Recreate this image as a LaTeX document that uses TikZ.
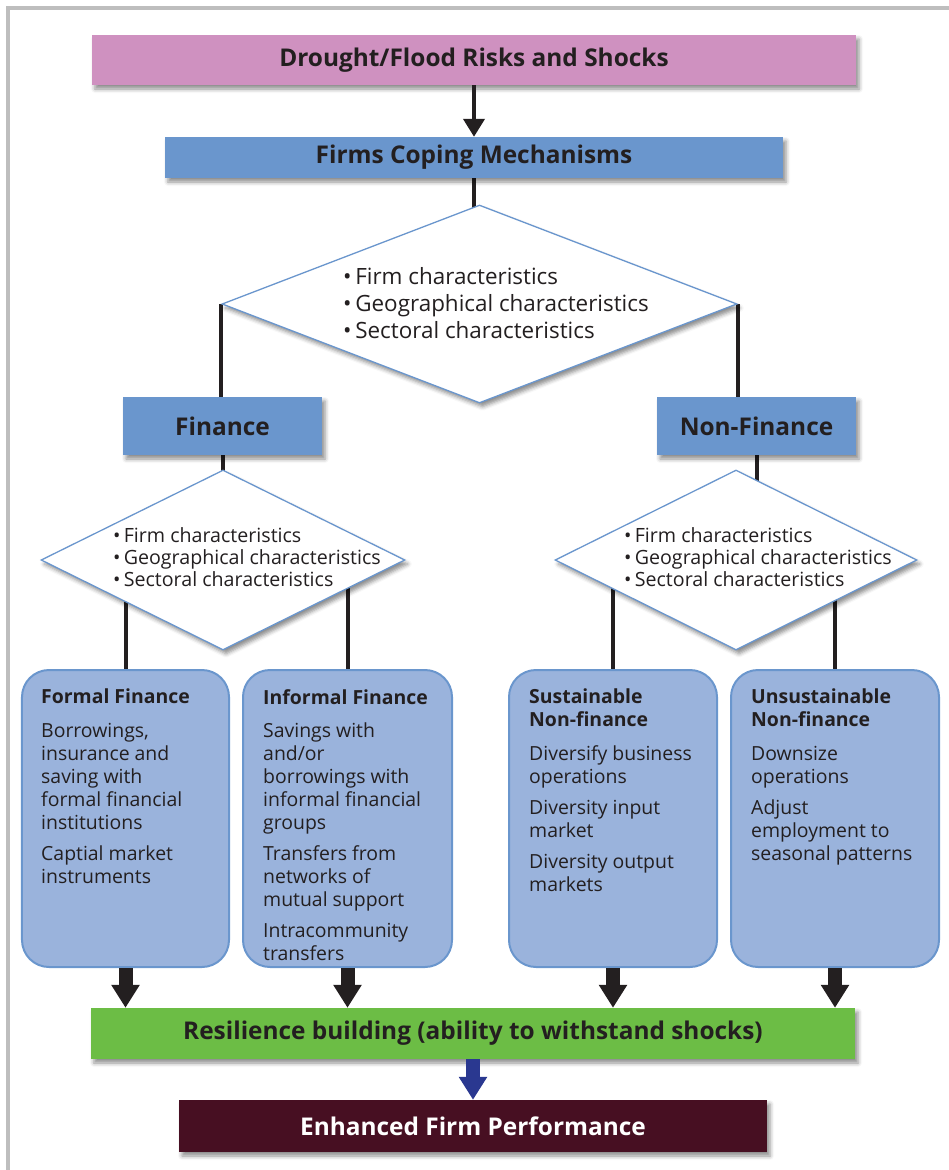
\documentclass[tikz,border=0pt]{standalone}
\usepackage{fontspec}
\setmainfont{Open Sans}
\usetikzlibrary{shapes.geometric,arrows.meta,shadows.blur,backgrounds}
\definecolor{riskpink}{RGB}{207,145,192}
\definecolor{midblue}{RGB}{106,150,205}
\definecolor{paleblue}{RGB}{154,179,220}
\definecolor{resgreen}{RGB}{108,189,69}
\definecolor{perfmaroon}{RGB}{71,15,34}
\definecolor{navyarrow}{RGB}{42,56,144}
\definecolor{inkblack}{RGB}{35,31,32}
\definecolor{framegray}{RGB}{190,190,190}
\tikzset{
	boxshadow/.style={blur shadow={shadow xshift=3bp, shadow yshift=-4bp, shadow blur radius=4bp, shadow opacity=45}},
	headbox/.style={boxshadow, inner sep=0pt, text=inkblack, font=\bfseries\fontsize{24.5}{28}\selectfont},
	branchbox/.style={headbox, fill=midblue, minimum width=199bp, minimum height=58bp, font=\bfseries\fontsize{24.5}{28}\selectfont},
	conddiamond/.style={diamond, draw=midblue, line width=1.3bp, fill=white, boxshadow, inner sep=0pt},
	condtext/.style={anchor=west, align=left, inner sep=0pt, text=inkblack},
	mechbox/.style={draw=midblue, line width=2bp, fill=paleblue, rounded corners=27bp, minimum width=207bp, minimum height=297bp, inner sep=0pt},
	mechtext/.style={anchor=north west, align=left, inner sep=0pt, text=inkblack, font=\fontsize{19.5}{23}\selectfont},
	link/.style={draw=inkblack, line width=4bp},
	thinarrow/.style={link, -{Triangle[width=21bp, length=18bp]}},
	fatarrow/.style={draw=inkblack, line width=14bp, -{Triangle[width=27bp, length=23bp]}}
}
\begin{document}
\begin{tikzpicture}[x=1bp, y=-1bp]
	\useasboundingbox (0,0) rectangle (949,1170);
	\draw[framegray, line width=3.5bp] (8,1175) -- (8,8) -- (955,8);

	\node[headbox, fill=riskpink, minimum width=764bp, minimum height=50bp] (risk) at (474,60) {Drought/Flood Risks and Shocks};
	\node[headbox, fill=midblue, minimum width=618bp, minimum height=41bp] (firms) at (474,157.5) {Firms Coping Mechanisms};
	\node[conddiamond, minimum width=515bp, minimum height=198bp] (cond) at (479.5,304) {};
	\node[condtext, font=\fontsize{22.5}{27}\selectfont] (condt) at (343,303) {•\,Firm characteristics\\•\,Geographical characteristics\\•\,Sectoral characteristics};

	\node[branchbox] (fin) at (222.5,426) {Finance};
	\node[branchbox] (nonfin) at (756.5,426) {Non-Finance};

	\node[conddiamond, minimum width=364bp, minimum height=180bp] (fcond) at (223,560) {};
	\node[condtext, font=\fontsize{19.7}{22}\selectfont] (fcondt) at (113,557) {•\,Firm characteristics\\•\,Geographical characteristics\\•\,Sectoral characteristics};
	\node[conddiamond, minimum width=362bp, minimum height=180bp] (ncond) at (736,560) {};
	\node[condtext, font=\fontsize{19.7}{22}\selectfont] (ncondt) at (624,557) {•\,Firm characteristics\\•\,Geographical characteristics\\•\,Sectoral characteristics};

	\node[mechbox] (formal) at (125.5,818.5) {};
	\node[mechbox, minimum width=209bp] (informal) at (347.5,818.5) {};
	\node[mechbox, minimum width=208bp] (sust) at (613,818.5) {};
	\node[mechbox, minimum width=208bp] (unsust) at (835,818.5) {};

	\node[mechtext] (formalt) at ([shift={(20,20)}]formal.north west) {\textbf{Formal Finance}\\[11bp]Borrowings,\\insurance and\\saving with\\formal financial\\institutions\\[8bp]Captial market\\instruments};
	\node[mechtext] (informalt) at ([shift={(21,20)}]informal.north west) {\textbf{Informal Finance}\\[11bp]Savings with\\and/or\\borrowings with\\informal financial\\groups\\[8bp]Transfers from\\networks of\\mutual support\\[8bp]Intracommunity\\transfers};
	\node[mechtext] (sustt) at ([shift={(21,20)}]sust.north west) {\textbf{Sustainable}\\\textbf{Non-finance}\\[11bp]Diversify business\\operations\\[8bp]Diversity input\\market\\[8bp]Diversity output\\markets};
	\node[mechtext] (unsustt) at ([shift={(21,20)}]unsust.north west) {\textbf{Unsustainable}\\\textbf{Non-finance}\\[11bp]Downsize\\operations\\[8bp]Adjust\\employment to\\seasonal patterns};

	\node[headbox, fill=resgreen, minimum width=764bp, minimum height=51bp] (resil) at (473,1033.5) {Resilience building (ability to withstand shocks)};
	\node[headbox, fill=perfmaroon, text=white, minimum width=588bp, minimum height=52bp] (perf) at (473,1126) {Enhanced Firm Performance};

	\draw[thinarrow] (risk) -- (firms);
	\draw[fatarrow, navyarrow] (resil) -- (perf);
	\foreach \m in {formal,informal,sust,unsust}
		\draw[fatarrow] (\m.south) -- (\m.south |- resil.north);

	\begin{scope}[on background layer]
		\draw[link] (firms.south) -- (firms.south |- cond.center);
		\draw[link] (cond.west) -- (cond.west |- fin.north);
		\draw[link] (cond.east) -- (cond.east |- nonfin.north);
		\draw[link] (fin.south) -- (fin.south |- fcond.center);
		\draw[link] (nonfin.south) -- (nonfin.south |- ncond.center);
		\draw[link] (formal.north) -- (formal.north |- fcond.center);
		\draw[link] (informal.north) -- (informal.north |- fcond.center);
		\draw[link] (sust.north) -- (sust.north |- ncond.center);
		\draw[link] (unsust.north) -- (unsust.north |- ncond.center);
	\end{scope}
\end{tikzpicture}
\end{document}
